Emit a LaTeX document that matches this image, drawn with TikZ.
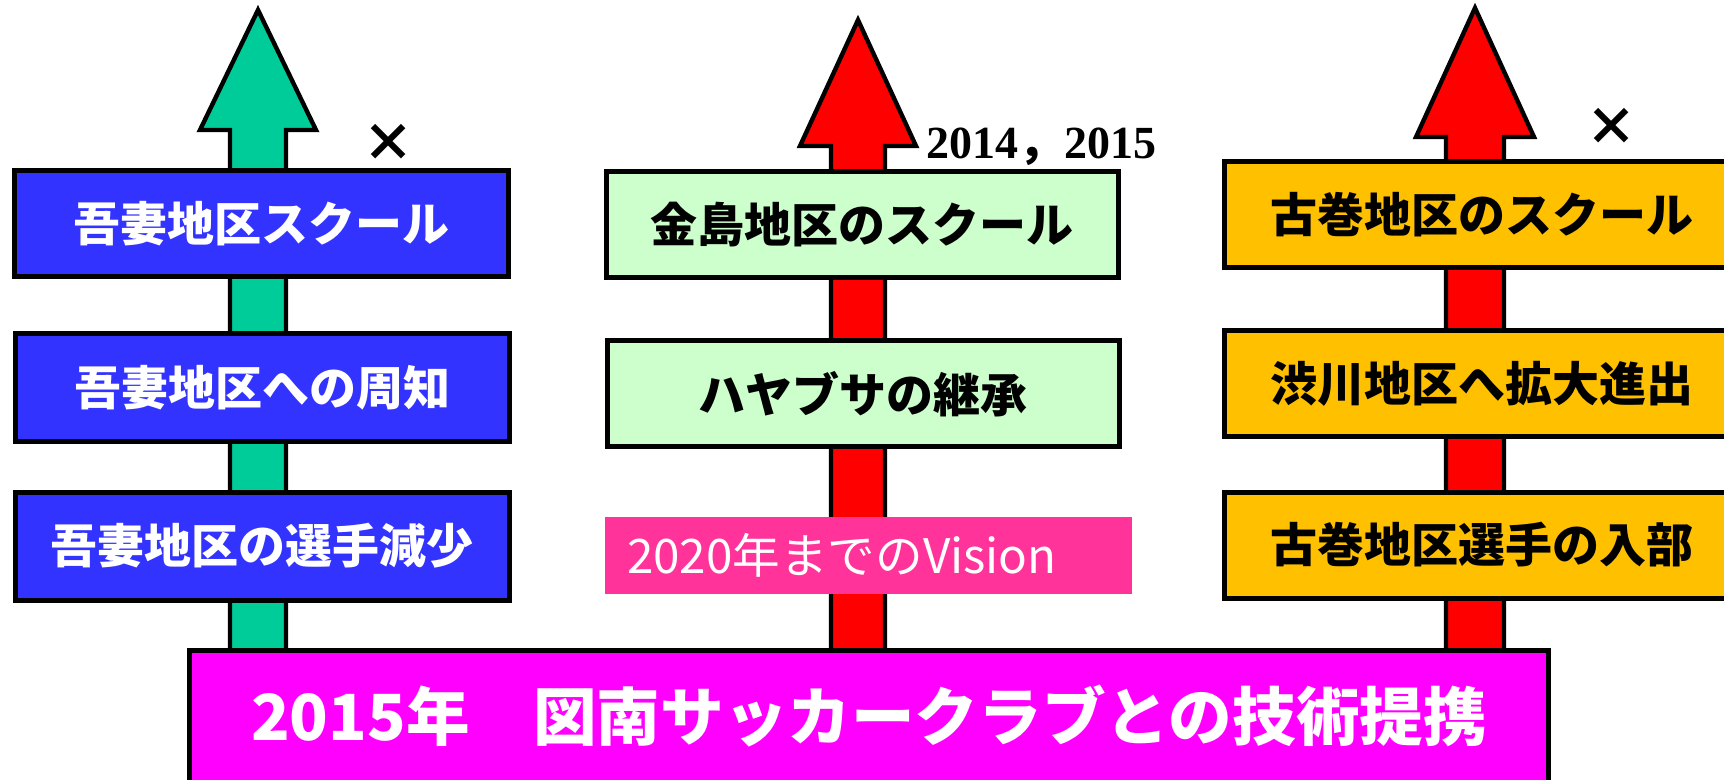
\documentclass[tikz,border=0pt]{standalone}
\usepackage{fontspec}
\newfontfamily\jp{Noto Sans CJK JP}
\newfontfamily\yearfont{Liberation Serif}
\definecolor{arrowgreen}{HTML}{00CC99}
\definecolor{arrowred}{HTML}{FF0000}
\definecolor{boxblue}{HTML}{3333FF}
\definecolor{boxgreen}{HTML}{CCFFCC}
\definecolor{boxorange}{HTML}{FFC000}
\definecolor{boxpink}{HTML}{FF3399}
\definecolor{boxmagenta}{HTML}{FF00FF}
\begin{document}
\begin{tikzpicture}[x=0.5pt,y=-0.5pt,
	arrowline/.style={draw=black,line width=2.2pt},
	box/.style={draw=black,line width=2.5pt,inner sep=0pt,minimum height=53pt,font=\jp\bfseries\fontsize{23.5}{28}\selectfont},
	bluebox/.style={box,fill=boxblue,text=white,minimum width=247pt},
	greenbox/.style={box,fill=boxgreen,minimum width=256pt},
	orangebox/.style={box,fill=boxorange,minimum width=258pt},
	cross/.style={font=\jp\bfseries\fontsize{26}{30}\selectfont}]
	\useasboundingbox (0,0) rectangle (1724,780);

	%tips of the arrows
	\coordinate (tipA) at (258,10);
	\coordinate (tipB) at (858,20);
	\coordinate (tipC) at (1475,8);

	%arrows
	\filldraw[arrowline,fill=arrowgreen] (tipA) -- ++(58,120) -- ++(-30,0) -- ++(0,530) -- ++(-56,0) -- ++(0,-530) -- ++(-30,0) -- cycle; %Agatsuma arrow
	\filldraw[arrowline,fill=arrowred] (tipB) -- ++(58,126) -- ++(-31,0) -- ++(0,514) -- ++(-54,0) -- ++(0,-514) -- ++(-31,0) -- cycle; %Kaneshima arrow
	\filldraw[arrowline,fill=arrowred] (tipC) -- ++(59,129) -- ++(-30,0) -- ++(0,523) -- ++(-58,0) -- ++(0,-523) -- ++(-30,0) -- cycle; %Furumaki arrow

	%left column
	\node[bluebox] (agaschool) at (261,224) {吾妻地区スクール};
	\node[bluebox,minimum height=54pt] (againfo) at (262,388) {吾妻地区への周知};
	\node[bluebox,minimum height=54pt] (agaplayers) at (262,546) {吾妻地区の選手減少};

	%middle column
	\node[greenbox] (kaneschool) at (862,225) {金島地区のスクール};
	\node[greenbox] (hayabusa) at (863,394) {ハヤブサの継承};
	\node[fill=boxpink,text=white,inner xsep=11pt,inner ysep=0pt,text width=241.5pt,align=left,minimum height=38.5pt,font=\jp\fontsize{23.8}{28}\selectfont] (vision) at (868.5,555.5) {2020年までのVision};

	%right column
	\node[orangebox] (furuschool) at (1482,214.5) {古巻地区のスクール};
	\node[orangebox] (shibukawa) at (1482,384) {渋川地区へ拡大進出};
	\node[orangebox] (furuplayers) at (1482,545) {古巻地区選手の入部};

	%base box
	\node[fill=boxmagenta,text=white,minimum width=679.5pt,minimum height=65pt,font=\jp\bfseries\fontsize{31.8}{38}\selectfont] (tienan) at (869,716) {2015年　図南サッカークラブとの技術提携};
	\draw[line width=2.5pt] (tienan.south west) |- (tienan.north east) -- (tienan.south east);

	%marks
	\node[cross] (crossA) at (388,143) {×};
	\node[cross] (crossC) at (1611,127) {×};
	\node[anchor=base,font=\yearfont\bfseries\fontsize{23}{28}\selectfont] (years) at (1041,159) {2014{\jp\bfseries ，}2015};
\end{tikzpicture}
\end{document}
